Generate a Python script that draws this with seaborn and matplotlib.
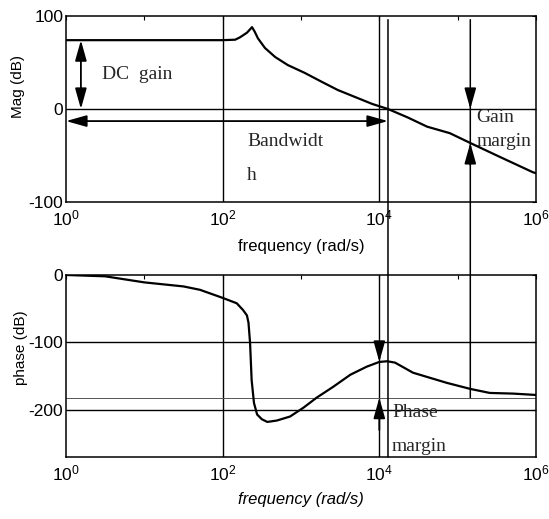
import numpy as np
import pandas as pd
import matplotlib
matplotlib.use("Agg")
import matplotlib.pyplot as plt
from matplotlib.patches import ConnectionPatch
import seaborn as sns

# ---------------- data ----------------
mag_log_freq = [0.0, 1.0, 2.0, 2.16, 2.22, 2.31, 2.375, 2.41, 2.45, 2.54, 2.67, 2.83,
                3.05, 3.27, 3.47, 3.69, 3.91, 4.11, 4.36, 4.61, 4.9, 5.16, 5.5, 5.96, 6.0]
mag_db = [74, 74, 74, 74.5, 77, 82, 88, 83, 76, 65.6, 55.9, 47.3,
          38.7, 29, 20.4, 12.9, 5.4, 0, -9, -19, -26, -36.5, -50, -68, -69]

phase_log_freq = [0.0, 0.5, 1.0, 1.5, 1.71, 2.0, 2.18, 2.26, 2.31, 2.33, 2.35, 2.37,
                  2.40, 2.44, 2.5, 2.57, 2.69, 2.86, 3.03, 3.2, 3.41, 3.63, 3.84,
                  4.0, 4.1, 4.2, 4.43, 4.86, 5.16, 5.41, 5.71, 6.0]
phase_deg = [0, -2, -11, -17, -22, -34, -42, -52, -60, -71, -101, -156,
             -190, -207, -214, -218, -216, -210, -197, -182, -166, -148, -136,
             -129, -128, -130, -145, -160, -169, -175, -176, -178]

x_tick_values = [1e0, 1e2, 1e4, 1e6]
x_tick_labels = ["$10^{0}$", "$10^{2}$", "$10^{4}$", "$10^{6}$"]
x_minor_ticks = [1e1, 1e3, 1e5]
mag_ticks = [-100, 0, 100]
phase_ticks = [-200, -100, 0]

crossover_freq = 1.29e4      # gain crossover (rad/s)
gain_margin_freq = 1.45e5    # phase crossover (rad/s)
phase_margin_freq = 1.0e4
dc_gain = 74
bandwidth_level = -13
gain_margin_db = -36.5
phase_at_crossover = -129
phase_ref = -182

# ---------------- style ----------------
sns.set_theme(style="white")
plt.rcParams["font.family"] = ["Liberation Sans", "DejaVu Sans"]
plt.rcParams["mathtext.fontset"] = "custom"
plt.rcParams["mathtext.rm"] = "Liberation Sans"
plt.rcParams["mathtext.it"] = "Liberation Sans:italic"
plt.rcParams["axes.edgecolor"] = "black"
plt.rcParams["axes.linewidth"] = 1.1
plt.rcParams["axes.unicode_minus"] = False

fig = plt.figure(figsize=(5.49, 5.19), dpi=100)
ax1 = fig.add_axes([0.1202, 0.6108, 0.8561, 0.3584])
ax2 = fig.add_axes([0.1202, 0.1195, 0.8561, 0.3507])

mag_df = pd.DataFrame({"freq": 10 ** np.array(mag_log_freq), "mag": mag_db})
ph_df = pd.DataFrame({"freq": 10 ** np.array(phase_log_freq), "phase": phase_deg})

sns.lineplot(data=mag_df, x="freq", y="mag", ax=ax1, color="black", lw=1.6, sort=False, zorder=5)
sns.lineplot(data=ph_df, x="freq", y="phase", ax=ax2, color="black", lw=1.6, sort=False, zorder=5)

for ax in (ax1, ax2):
    ax.set_xscale("log")
    ax.set_xlim(1, 1e6)
    ax.set_xticks(x_tick_values)
    ax.set_xticklabels(x_tick_labels)
    ax.set_xticks(x_minor_ticks, minor=True)
    ax.tick_params(axis="both", which="both", direction="in", length=3, width=0.8,
                   top=True, right=True, colors="black", labelsize=12.5)
    ax.tick_params(axis="x", which="both", pad=5)
    ax.tick_params(axis="x", which="minor", labelbottom=False)
    ax.tick_params(axis="y", pad=2)
    for s in ax.spines.values():
        s.set_color("black")
    ax.axvline(1e2, color="black", lw=1.0)
    ax.axvline(1e4, color="black", lw=1.0)

ax1.set_ylim(-100, 100)
ax1.set_yticks(mag_ticks)
ax1.axhline(0, color="black", lw=1.0)
ax2.set_ylim(-270, 0)
ax2.set_yticks(phase_ticks)
ax2.axhline(-100, color="black", lw=1.0)
ax2.axhline(-200, color="black", lw=1.0)
ax2.axhline(phase_ref, color="#555555", lw=0.7)

ax1.set_xlabel("frequency (rad/s)", fontsize=12, color="black")
ax2.set_xlabel("frequency (rad/s)", fontsize=12, color="black", style="italic")
ax1.xaxis.set_label_coords(0.5, -0.20)
ax2.xaxis.set_label_coords(0.5, -0.195)
ax1.set_ylabel("Mag (dB)", fontsize=11, color="black")
ax2.set_ylabel("phase (dB)", fontsize=11, color="black")
ax1.yaxis.set_label_coords(-0.088, 0.62)
ax2.yaxis.set_label_coords(-0.080, 0.60)

arrow_kw = dict(arrowstyle="-|>,head_length=1.25,head_width=0.35", color="black",
                lw=1.3, shrinkA=0, shrinkB=0, mutation_scale=10)
dbl_kw = dict(arrow_kw, arrowstyle="<|-|>,head_length=1.25,head_width=0.35")

serif = ["Liberation Serif", "DejaVu Serif"]

# DC gain
ax1.annotate("", xy=(1.55, 0), xytext=(1.55, dc_gain), arrowprops=dbl_kw)
ax1.text(2.9, 37, "DC  gain", family=serif, fontsize=14, va="center", ha="left")

# Bandwidth
ax1.annotate("", xy=(crossover_freq, bandwidth_level), xytext=(1.0, bandwidth_level),
             arrowprops=dbl_kw, annotation_clip=False)
ax1.text(205, -35, "Bandwidt", family=serif, fontsize=14, va="center", ha="left")
ax1.text(205, -72, "h", family=serif, fontsize=14, va="center", ha="left")

# Gain margin
ax1.annotate("", xy=(gain_margin_freq, 0), xytext=(gain_margin_freq, 20), arrowprops=arrow_kw)
ax1.annotate("", xy=(gain_margin_freq, gain_margin_db), xytext=(gain_margin_freq, -60),
             arrowprops=arrow_kw)
ax1.text(1.75e5, -9, "Gain", family=serif, fontsize=14, va="center", ha="left")
ax1.text(1.75e5, -35, "margin", family=serif, fontsize=14, va="center", ha="left")

# Phase margin
ax2.annotate("", xy=(phase_margin_freq, phase_at_crossover), xytext=(phase_margin_freq, -100),
             arrowprops=arrow_kw)
ax2.annotate("", xy=(phase_margin_freq, phase_ref), xytext=(phase_margin_freq, -230),
             arrowprops=arrow_kw)
ax2.text(1.45e4, -204, "Phase", family=serif, fontsize=14, va="center", ha="left")
ax2.text(1.45e4, -254, "margin", family=serif, fontsize=14, va="center", ha="left")

# lines spanning both plots
for f, y_low in ((crossover_freq, -270), (gain_margin_freq, phase_ref)):
    con = ConnectionPatch(xyA=(f, 96), coordsA="data", axesA=ax1,
                          xyB=(f, y_low), coordsB="data", axesB=ax2,
                          color="black", lw=1.1)
    fig.add_artist(con)

fig.savefig("out.png", dpi=100, facecolor="white")
